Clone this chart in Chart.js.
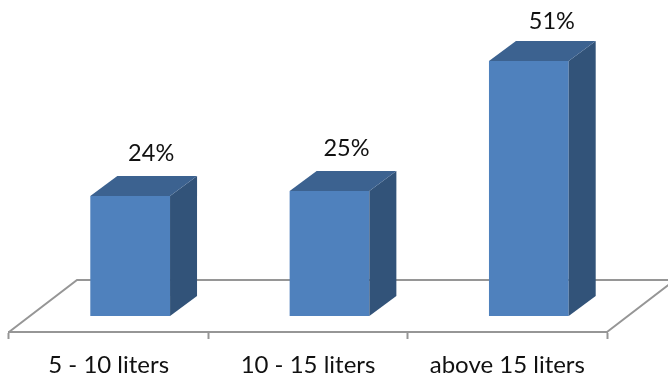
<!DOCTYPE html>
<html>
<head>
<meta charset="utf-8">
<style>
html,body{margin:0;padding:0;background:#fff;overflow:hidden}
#wrap{position:absolute;left:0;top:0;width:668px;height:379px}
</style>
<script src="https://cdn.jsdelivr.net/npm/chart.js@4"></script>
</head>
<body>
<div id="wrap"><canvas id="c"></canvas></div>
<script>
const categories = ['5 - 10 liters', '10 - 15 liters', 'above 15 liters'];
const shares = [24, 25, 51];

const FONT = 'Lato, "Open Sans", sans-serif';
const INK = '#111111';
const AXIS = '#969696';
const FRONT = '#4f81bd';
const SIDE = '#325379';
const TOP = '#3c6290';

// Oblique depth of the bars and of the floor plane, in pixels.
const BAR_DX = 27, BAR_DY = 20;
const FLOOR_DX = 68, FLOOR_DY = 52;
// Bars stand mid-depth on the floor, so they sit right of their category centre.
const BAR_SHIFT = 21.5;
// Label nudges relative to each bar's top centre.
const LABEL_NUDGE = [[21, -43], [17, -43], [23, -40]];

const floorPlane = {
  id: 'floorPlane',
  afterDatasetsUpdate(chart) {
    chart.getDatasetMeta(0).data.forEach(bar => { bar.x += BAR_SHIFT; });
  },
  beforeDatasetsDraw(chart) {
    const { ctx, chartArea: a } = chart;
    ctx.save();
    ctx.strokeStyle = AXIS;
    ctx.lineWidth = 2;
    ctx.beginPath();
    ctx.moveTo(a.left, a.bottom);
    ctx.lineTo(a.left + FLOOR_DX, a.bottom - FLOOR_DY);
    ctx.lineTo(a.right + FLOOR_DX, a.bottom - FLOOR_DY);
    ctx.lineTo(a.right, a.bottom);
    ctx.stroke();
    ctx.restore();
  }
};

const barDepth = {
  id: 'barDepth',
  afterDatasetsDraw(chart) {
    const { ctx } = chart;
    chart.getDatasetMeta(0).data.forEach((bar, i) => {
      const half = bar.width / 2;
      const l = bar.x - half, r = bar.x + half, t = bar.y, b = bar.base;
      ctx.save();
      ctx.fillStyle = SIDE;
      ctx.beginPath();
      ctx.moveTo(r, t);
      ctx.lineTo(r + BAR_DX, t - BAR_DY);
      ctx.lineTo(r + BAR_DX, b - BAR_DY);
      ctx.lineTo(r, b);
      ctx.closePath();
      ctx.fill();
      ctx.fillStyle = TOP;
      ctx.beginPath();
      ctx.moveTo(l, t);
      ctx.lineTo(l + BAR_DX, t - BAR_DY);
      ctx.lineTo(r + BAR_DX, t - BAR_DY);
      ctx.lineTo(r, t);
      ctx.closePath();
      ctx.fill();
      ctx.fillStyle = INK;
      ctx.font = '23.5px ' + FONT;
      ctx.textAlign = 'center';
      ctx.textBaseline = 'middle';
      ctx.fillText(shares[i] + '%', bar.x + LABEL_NUDGE[i][0], t + LABEL_NUDGE[i][1]);
      ctx.restore();
    });
  }
};

new Chart(document.getElementById('c'), {
  type: 'bar',
  data: {
    labels: categories,
    datasets: [{
      data: shares,
      backgroundColor: FRONT,
      borderWidth: 0,
      barPercentage: 1,
      categoryPercentage: 0.4
    }]
  },
  options: {
    responsive: true,
    maintainAspectRatio: false,
    animation: false,
    layout: { padding: { left: 9, right: 61, top: 16, bottom: 0 } },
    plugins: { legend: { display: false }, tooltip: { enabled: false } },
    scales: {
      x: {
        offset: true,
        grid: {
          offset: true,
          drawOnChartArea: false,
          drawTicks: true,
          tickLength: 7,
          tickColor: AXIS,
          tickWidth: 2
        },
        border: { display: true, color: AXIS, width: 2 },
        ticks: {
          color: INK,
          font: { family: FONT, size: 24 },
          padding: 12,
          maxRotation: 0,
          autoSkip: false
        },
        afterFit(scale) { scale.height = 47; }
      },
      y: { display: false, min: -3.2, max: 60 }
    }
  },
  plugins: [floorPlane, barDepth]
});
</script>
</body>
</html>
